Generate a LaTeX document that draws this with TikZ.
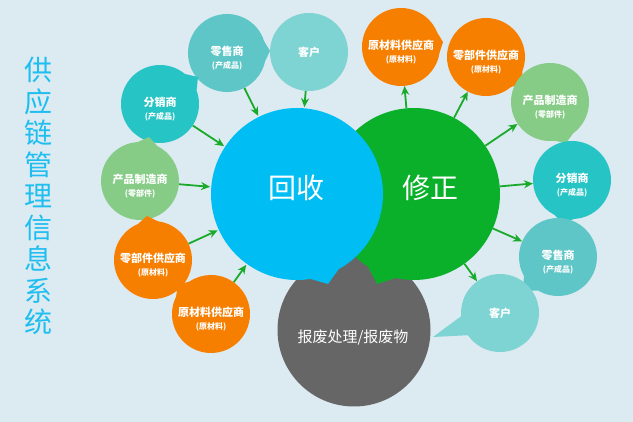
\documentclass[tikz,border=0pt]{standalone}
\usepackage{fontspec}
\setmainfont{Noto Sans CJK SC}
\usetikzlibrary{arrows.meta,shapes.callouts}
\definecolor{scbg}{RGB}{220,234,241}
\definecolor{scblue}{RGB}{0,190,243}
\definecolor{scgreen}{RGB}{10,176,42}
\definecolor{scgray}{RGB}{102,102,102}
\definecolor{scorange}{RGB}{247,127,0}
\definecolor{scteal}{RGB}{38,196,196}
\definecolor{scteal2}{RGB}{94,198,198}
\definecolor{scteal3}{RGB}{126,211,211}
\definecolor{sclime}{RGB}{134,204,134}
\definecolor{scarrow}{RGB}{26,170,42}
\definecolor{sctitle}{RGB}{30,190,240}
\newcommand{\bt}[2]{\rule{0pt}{19pt}#1\\{\fontsize{8}{10}\selectfont(#2)}}

\begin{document}
\begin{tikzpicture}[x=1pt,y=-1pt,
  bub/.style={circle,minimum size=78pt,inner sep=-12pt,align=center,
              text=white,font=\fontsize{11}{13}\selectfont\bfseries},
  tbub/.style={bub,ellipse callout,callout pointer arc=30,callout absolute pointer={#1}},
  big/.style={ellipse callout,minimum size=172pt,inner sep=0pt,callout pointer arc=20,
              callout absolute pointer={#1}},
  bigtxt/.style={text=white,inner sep=0pt},
  arr/.style={-{Stealth[length=9pt,width=8pt]},line width=1.8pt,scarrow}]
  \fill[scbg] (0,0) rectangle (633,422);
  \node[text=sctitle,align=center,inner sep=0pt,font=\fontsize{28}{31.5}\selectfont]
    (title) at (38,196) {供\\应\\链\\管\\理\\信\\息\\系\\统};
  % left bubbles
  \node[tbub={(270,51)},fill=scteal2] (l1) at (227,53) {\bt{零售商}{产成品}};
  \node[bub,fill=scteal3] (l2) at (309,52) {客户};
  \node[tbub={(198,77)},fill=scteal] (l3) at (160,104) {\bt{分销商}{产成品}};
  \node[tbub={(149,137)},fill=sclime] (l4) at (140,181) {\bt{产品制造商}{零部件}};
  \node[tbub={(147,216)},fill=scorange] (l5) at (153,260) {\bt{零部件供应商}{原材料}};
  \node[tbub={(178,285)},fill=scorange] (l6) at (211,314) {\bt{原材料供应商}{原材料}};
  % center
  \node[circle,minimum size=153pt,fill=scgray] (fei) at (354,330) {};
  \node[big={(377,284)},fill=scgreen] (xiu) at (414,194) {};
  \node[big={(328,284)},fill=scblue] (hui) at (297,194) {};
  \node[bigtxt,font=\fontsize{28}{30}\selectfont] (thui) at (296,188) {回收};
  \node[bigtxt,font=\fontsize{28}{30}\selectfont] (txiu) at (430,188) {修正};
  \node[bigtxt,font=\fontsize{15}{18}\selectfont] (tfei) at (353,338) {报废处理/报废物};
  % right bubbles
  \node[tbub={(443,42)},fill=scorange] (r1) at (401,47) {\bt{原材料供应商}{原材料}};
  \node[tbub={(522,83)},fill=scorange] (r2) at (486,57) {\bt{零部件供应商}{原材料}};
  \node[tbub={(566,143)},fill=sclime] (r3) at (550,102) {\bt{产品制造商}{零部件}};
  \node[tbub={(563,223)},fill=scteal] (r4) at (572,180) {\bt{分销商}{产成品}};
  \node[tbub={(523,291)},fill=scteal2] (r5) at (558,257) {\bt{零售商}{产成品}};
  \node[tbub={(433,337)},fill=scteal3] (r6) at (500,313) {客户};
  % arrows
  \foreach \n in {l1,l2,l3,l4,l5,l6}
    \draw[arr,shorten >=1pt] (\n) -- (hui);
  \foreach \n in {r1,r2,r3,r4,r5,r6}
    \draw[arr] (xiu) -- (\n);
\end{tikzpicture}
\end{document}
